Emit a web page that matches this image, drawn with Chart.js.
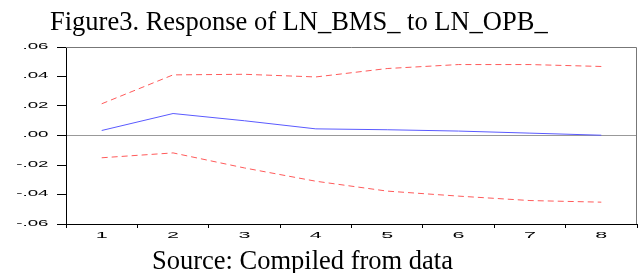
<!DOCTYPE html>
<html>
<head>
<meta charset="utf-8">
<script src="https://cdn.jsdelivr.net/npm/chart.js@4"></script>
<style>
  body { margin: 0; background: #fff; overflow: hidden; }
  #wrap { position: relative; width: 640px; height: 273px; overflow: hidden; }
  #chart { position: absolute; left: 0; top: 0; }
  .cap { position: absolute; font-family: "Liberation Serif", "Times New Roman", serif; font-size: 26.5px; line-height: 1; color: #000; white-space: nowrap; }
  #title { left: 50px; top: 8px; }
  #source { left: 152px; top: 247px; }
</style>
</head>
<body>
<div id="wrap">
  <canvas id="chart" width="640" height="273"></canvas>
  <div class="cap" id="title">Figure3. Response of LN_BMS_ to LN_OPB_</div>
  <div class="cap" id="source">Source: Compiled from data</div>
</div>
<script>
// periods and impulse response values
const periods = ['1', '2', '3', '4', '5', '6', '7', '8'];
const response = [0.0034, 0.0149, 0.0100, 0.0045, 0.0039, 0.0030, 0.0016, 0.0002];
const upperBand = [0.0215, 0.0411, 0.0415, 0.0397, 0.0454, 0.0481, 0.0481, 0.0468];
const lowerBand = [-0.0151, -0.0118, -0.0220, -0.0310, -0.0377, -0.0411, -0.0441, -0.0452];
const yTicks = [-0.06, -0.04, -0.02, 0, 0.02, 0.04, 0.06];

function fmt(v) {
    let s = Math.abs(v).toFixed(2).replace(/^0/, '');
    return (v < -1e-9 ? '-' : '') + s;
}

// grey frame on top and right of the plot, plus the wide eviews-style tick labels
const framePlugin = {
    id: 'frame',
    afterDraw(chart) {
        const a = chart.chartArea;
        const ctx = chart.ctx;
        ctx.save();
        ctx.strokeStyle = '#777';
        ctx.lineWidth = 1;
        ctx.beginPath();
        ctx.moveTo(a.left, a.top + 0.5);
        ctx.lineTo(a.right - 0.5, a.top + 0.5);
        ctx.lineTo(a.right - 0.5, a.bottom);
        ctx.stroke();

        const ys = chart.scales.y;
        const xs = chart.scales.x;
        ctx.fillStyle = '#000';
        ctx.textBaseline = 'middle';

        // y labels, stretched sideways
        ctx.font = '8.5px "Liberation Sans"';
        ctx.textAlign = 'right';
        const yEdge = ys.right - 9 - 8.5;
        ys.ticks.forEach((t, i) => {
            ctx.save();
            ctx.translate(yEdge, ys.getPixelForTick(i) - 0.5);
            ctx.scale(2.2, 1);
            ctx.fillText(fmt(t.value), 0, 0);
            ctx.restore();
        });

        // x labels
        ctx.font = '9.8px "Liberation Sans"';
        ctx.textAlign = 'center';
        periods.forEach((p, i) => {
            ctx.save();
            ctx.translate(xs.getPixelForValue(i), xs.top + 11.5);
            ctx.scale(2.2, 1);
            ctx.fillText(p, 0, 0);
            ctx.restore();
        });
        ctx.restore();
    }
};

new Chart(document.getElementById('chart'), {
    type: 'line',
    data: {
        labels: periods,
        datasets: [
            { data: upperBand, borderColor: '#ff5a5a', borderWidth: 1, borderDash: [6, 4], pointRadius: 0, tension: 0 },
            { data: response, borderColor: '#5a5aff', borderWidth: 1, pointRadius: 0, tension: 0 },
            { data: lowerBand, borderColor: '#ff5a5a', borderWidth: 1, borderDash: [6, 4], pointRadius: 0, tension: 0 }
        ]
    },
    options: {
        responsive: false,
        animation: false,
        layout: { padding: { left: 0, right: 3, top: 47, bottom: 29 } },
        plugins: {
            legend: { display: false },
            tooltip: { enabled: false }
        },
        scales: {
            x: {
                offset: true,
                grid: { offset: true, drawOnChartArea: false, tickLength: 4, tickColor: '#000' },
                border: { color: '#000', width: 1 },
                ticks: { color: 'rgba(0,0,0,0)', padding: 3, font: { family: 'Liberation Sans', size: 10 } },
                afterFit(scale) { scale.height = 20; }
            },
            y: {
                min: -0.06,
                max: 0.06,
                afterBuildTicks(scale) { scale.ticks = yTicks.map(v => ({ value: v })); },
                grid: {
                    color: ctx => (Math.abs(ctx.tick.value) < 1e-9 ? '#999' : 'rgba(0,0,0,0)'),
                    tickColor: '#000',
                    tickLength: 9
                },
                border: { color: '#000', width: 1 },
                ticks: {
                    color: 'rgba(0,0,0,0)',
                    padding: 7,
                    font: { family: 'Liberation Sans', size: 10 },
                    callback: v => fmt(v)
                },
                afterFit(scale) { scale.width = 66; }
            }
        }
    },
    plugins: [framePlugin]
});
</script>
</body>
</html>
